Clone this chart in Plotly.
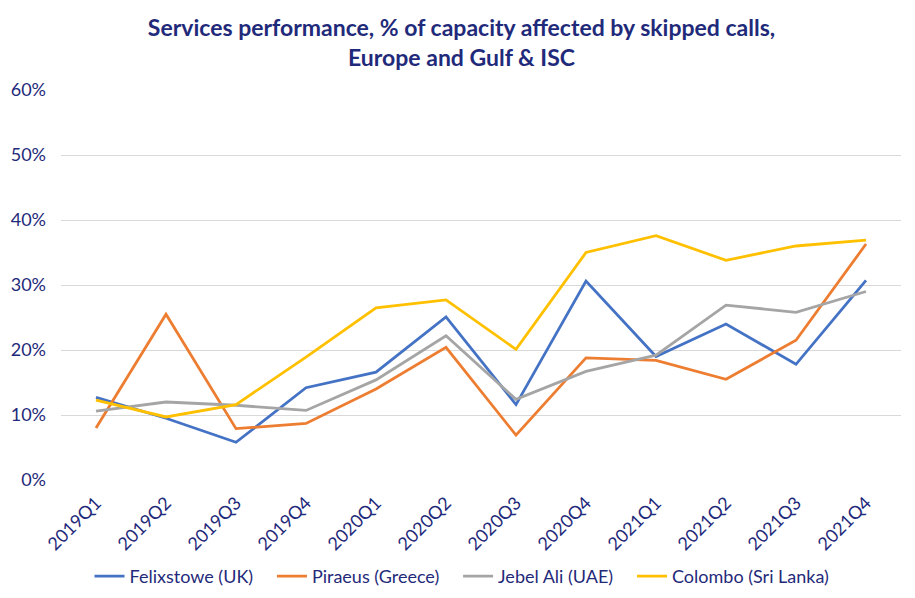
import plotly.graph_objects as go

# Quarters on the x axis
quarters = ['2019Q1', '2019Q2', '2019Q3', '2019Q4',
            '2020Q1', '2020Q2', '2020Q3', '2020Q4',
            '2021Q1', '2021Q2', '2021Q3', '2021Q4']

# % of capacity affected by skipped calls
felixstowe = [12.7, 9.5, 5.8, 14.2, 16.6, 25.1, 11.6, 30.6, 19.0, 24.0, 17.8, 30.7]
piraeus = [8.0, 25.5, 7.9, 8.7, 14.0, 20.4, 6.9, 18.8, 18.4, 15.5, 21.5, 36.3]
jebel_ali = [10.6, 12.0, 11.5, 10.7, 15.4, 22.2, 12.4, 16.7, 19.2, 26.9, 25.8, 29.0]
colombo = [12.3, 9.7, 11.6, 18.9, 26.5, 27.7, 20.1, 35.0, 37.6, 33.8, 36.0, 36.9]

series = [
    ('Felixstowe (UK)', felixstowe, '#4472C4'),
    ('Piraeus (Greece)', piraeus, '#ED7D31'),
    ('Jebel Ali (UAE)', jebel_ali, '#A5A5A5'),
    ('Colombo (Sri Lanka)', colombo, '#FFC000'),
]

navy = '#1F2A7A'
font_family = 'Lato, Open Sans, sans-serif'
pad = '\u00a0' * 3  # extra room between legend entries

fig = go.Figure()
for name, vals, color in series:
    fig.add_trace(go.Scatter(x=quarters, y=[v / 100 for v in vals], name=name + pad,
                             mode='lines', line=dict(color=color, width=2.8)))

# the page body adds an 8px offset, so the figure is 8px smaller than the window
fig.update_layout(
    width=907, height=590,
    paper_bgcolor='white', plot_bgcolor='white',
    margin=dict(l=53, r=14, t=82, b=118, autoexpand=False),
    title=dict(text='<b>Services performance, % of capacity affected by skipped calls,<br>Europe and Gulf & ISC</b>',
               x=0.5, xanchor='center', y=1 - 28 / 590, yanchor='middle',
               font=dict(family=font_family, size=23, color=navy)),
    font=dict(family=font_family, size=15, color=navy),
    legend=dict(orientation='h', x=0.5 - 12 / 840, xanchor='center', y=-0.2, yanchor='top',
                font=dict(size=18, color=navy), itemwidth=30),
    showlegend=True,
)
fig.update_xaxes(type='category', range=[-0.5, len(quarters) - 0.5], tickangle=-45,
                 showgrid=False, showline=False, automargin=False,
                 ticks='', ticklabelstandoff=8, tickfont=dict(size=18, color=navy))
fig.update_yaxes(range=[0, 0.6], dtick=0.1, tickformat='.0%', showgrid=True,
                 gridcolor='#D9D9D9', gridwidth=1, zeroline=False, showline=False,
                 automargin=False, ticks='', ticklabelstandoff=14,
                 tickfont=dict(size=18, color=navy))

fig.write_html('out.html')
